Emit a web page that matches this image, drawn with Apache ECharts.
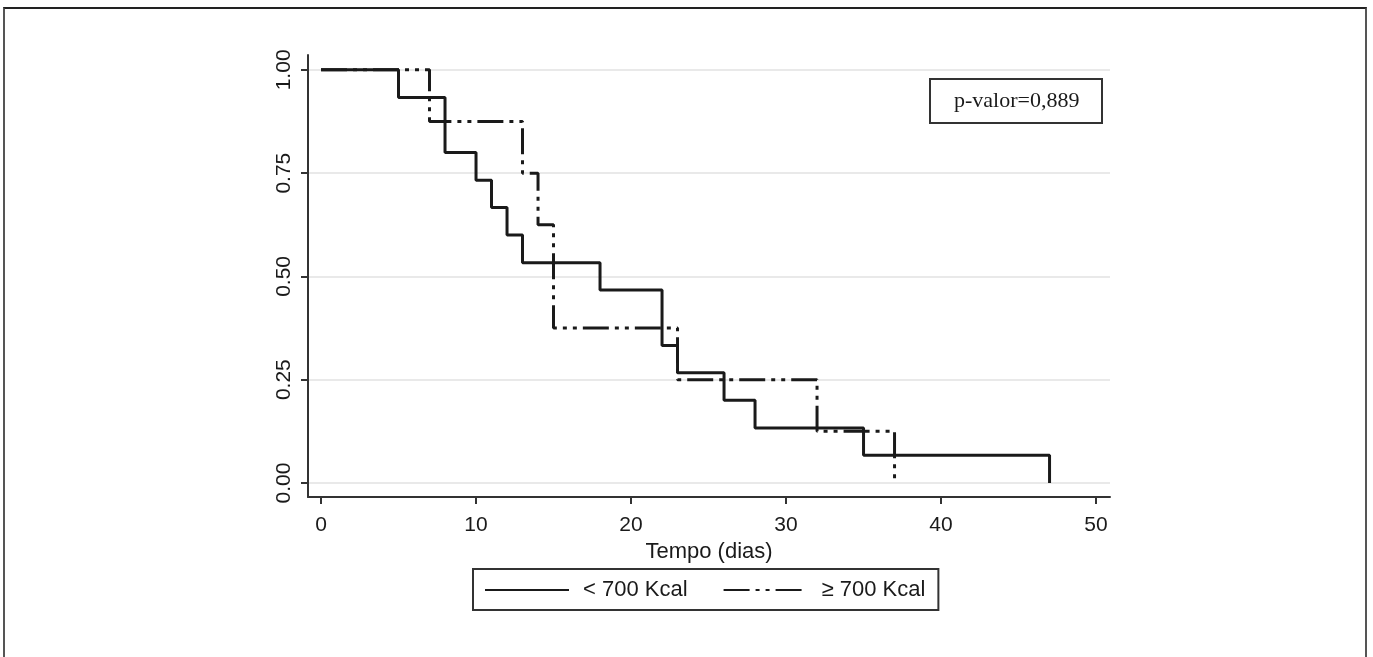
<!DOCTYPE html>
<html>
<head>
<meta charset="utf-8">
<script src="https://cdn.jsdelivr.net/npm/echarts@6/dist/echarts.min.js"></script>
<style>
html,body{margin:0;padding:0;background:#fff;overflow:hidden;}
#frame{position:absolute;left:3px;top:7px;width:1360px;height:700px;border:2px solid #555;border-top-color:#222;border-bottom:none;}
#chart{position:absolute;left:0;top:0;width:1373px;height:657px;}
</style>
</head>
<body>
<div id="frame"></div>
<div id="chart"></div>
<script>
// Kaplan-Meier step points (time in days, survival)
const lowTimes = [0, 5, 8, 10, 11, 12, 13, 18, 22, 23, 26, 28, 35, 47];
const lowSurv  = [1.0, 0.933, 0.8, 0.733, 0.667, 0.6, 0.533, 0.467, 0.333, 0.267, 0.2, 0.133, 0.067, 0.0];
const highTimes = [0, 7, 13, 14, 15, 23, 32, 37];
const highSurv  = [1.0, 0.875, 0.75, 0.625, 0.375, 0.25, 0.125, 0.0];
const xTicks = [0, 10, 20, 30, 40, 50];
const yTicks = [0, 0.25, 0.5, 0.75, 1.0];
const seriesNames = ['< 700 Kcal', '\u2265 700 Kcal'];
const pText = 'p-valor=0,889';
const xTitle = 'Tempo (dias)';

const pair = (xs, ys) => xs.map((x, i) => [x, ys[i]]);
const ink = '#1a1a1a';
const sans = '"Liberation Sans", Arial, sans-serif';
const dashDotDot = [26, 6, 4, 6, 4, 6];

const chart = echarts.init(document.getElementById('chart'), null, {renderer: 'canvas'});
chart.setOption({
  animation: false,
  backgroundColor: 'transparent',
  title: {
    text: pText,
    left: 930, top: 79,
    padding: [11, 23, 11, 24],
    borderWidth: 2, borderColor: '#333',
    textStyle: {fontFamily: '"Liberation Serif", "Times New Roman", serif', fontSize: 22, fontWeight: 'normal', color: '#1a1a1a', lineHeight: 22}
  },
  grid: {left: 308, right: 263, top: 55, bottom: 160, containLabel: false},
  xAxis: {
    type: 'value', min: -0.84, max: 50.9,
    name: xTitle, nameLocation: 'middle', nameGap: 39,
    nameTextStyle: {fontFamily: sans, fontSize: 22, color: '#1a1a1a'},
    axisLine: {show: true, onZero: false, lineStyle: {color: '#333', width: 2}},
    axisTick: {show: true, length: 7, customValues: xTicks, lineStyle: {color: '#333', width: 2}},
    axisLabel: {customValues: xTicks, fontFamily: sans, fontSize: 21, color: '#1a1a1a', margin: 18},
    splitLine: {show: false}
  },
  yAxis: {
    type: 'value', min: -0.034, max: 1.036,
    axisLine: {show: true, onZero: false, lineStyle: {color: '#333', width: 2}},
    axisTick: {show: true, length: 7, customValues: yTicks, lineStyle: {color: '#333', width: 2}},
    axisLabel: {customValues: yTicks, rotate: 90, fontFamily: sans, fontSize: 21, color: '#1a1a1a', margin: 13,
      formatter: v => Number(v).toFixed(2)},
    splitLine: {show: false}
  },
  legend: {
    left: 473, top: 569,
    orient: 'horizontal',
    data: seriesNames,
    borderWidth: 2, borderColor: '#333',
    padding: [10, 13, 9, 11],
    itemWidth: 84, itemHeight: 20, itemGap: 35,
    itemStyle: {opacity: 0},
    textStyle: {fontFamily: sans, fontSize: 22, color: '#1a1a1a', padding: [0, 0, 0, 9]},
    selectedMode: false
  },
  series: [
    {
      type: 'line', name: '_grid', data: [], silent: true, z: 1,
      markLine: {
        silent: true, z: 0, symbol: ['none', 'none'], label: {show: false},
        lineStyle: {color: '#e9e9e9', width: 2, type: 'solid'},
        data: yTicks.map(v => ({yAxis: v}))
      }
    },
    {
      type: 'line', name: seriesNames[0], step: 'end', data: pair(lowTimes, lowSurv),
      symbol: 'none', showSymbol: false, z: 3,
      lineStyle: {color: ink, width: 3, type: 'solid'}, itemStyle: {color: ink}
    },
    {
      type: 'line', name: seriesNames[1], step: 'end', data: pair(highTimes, highSurv),
      symbol: 'none', showSymbol: false, z: 2,
      lineStyle: {color: ink, width: 3, type: dashDotDot}, itemStyle: {color: ink}
    }
  ]
});
</script>
</body>
</html>
